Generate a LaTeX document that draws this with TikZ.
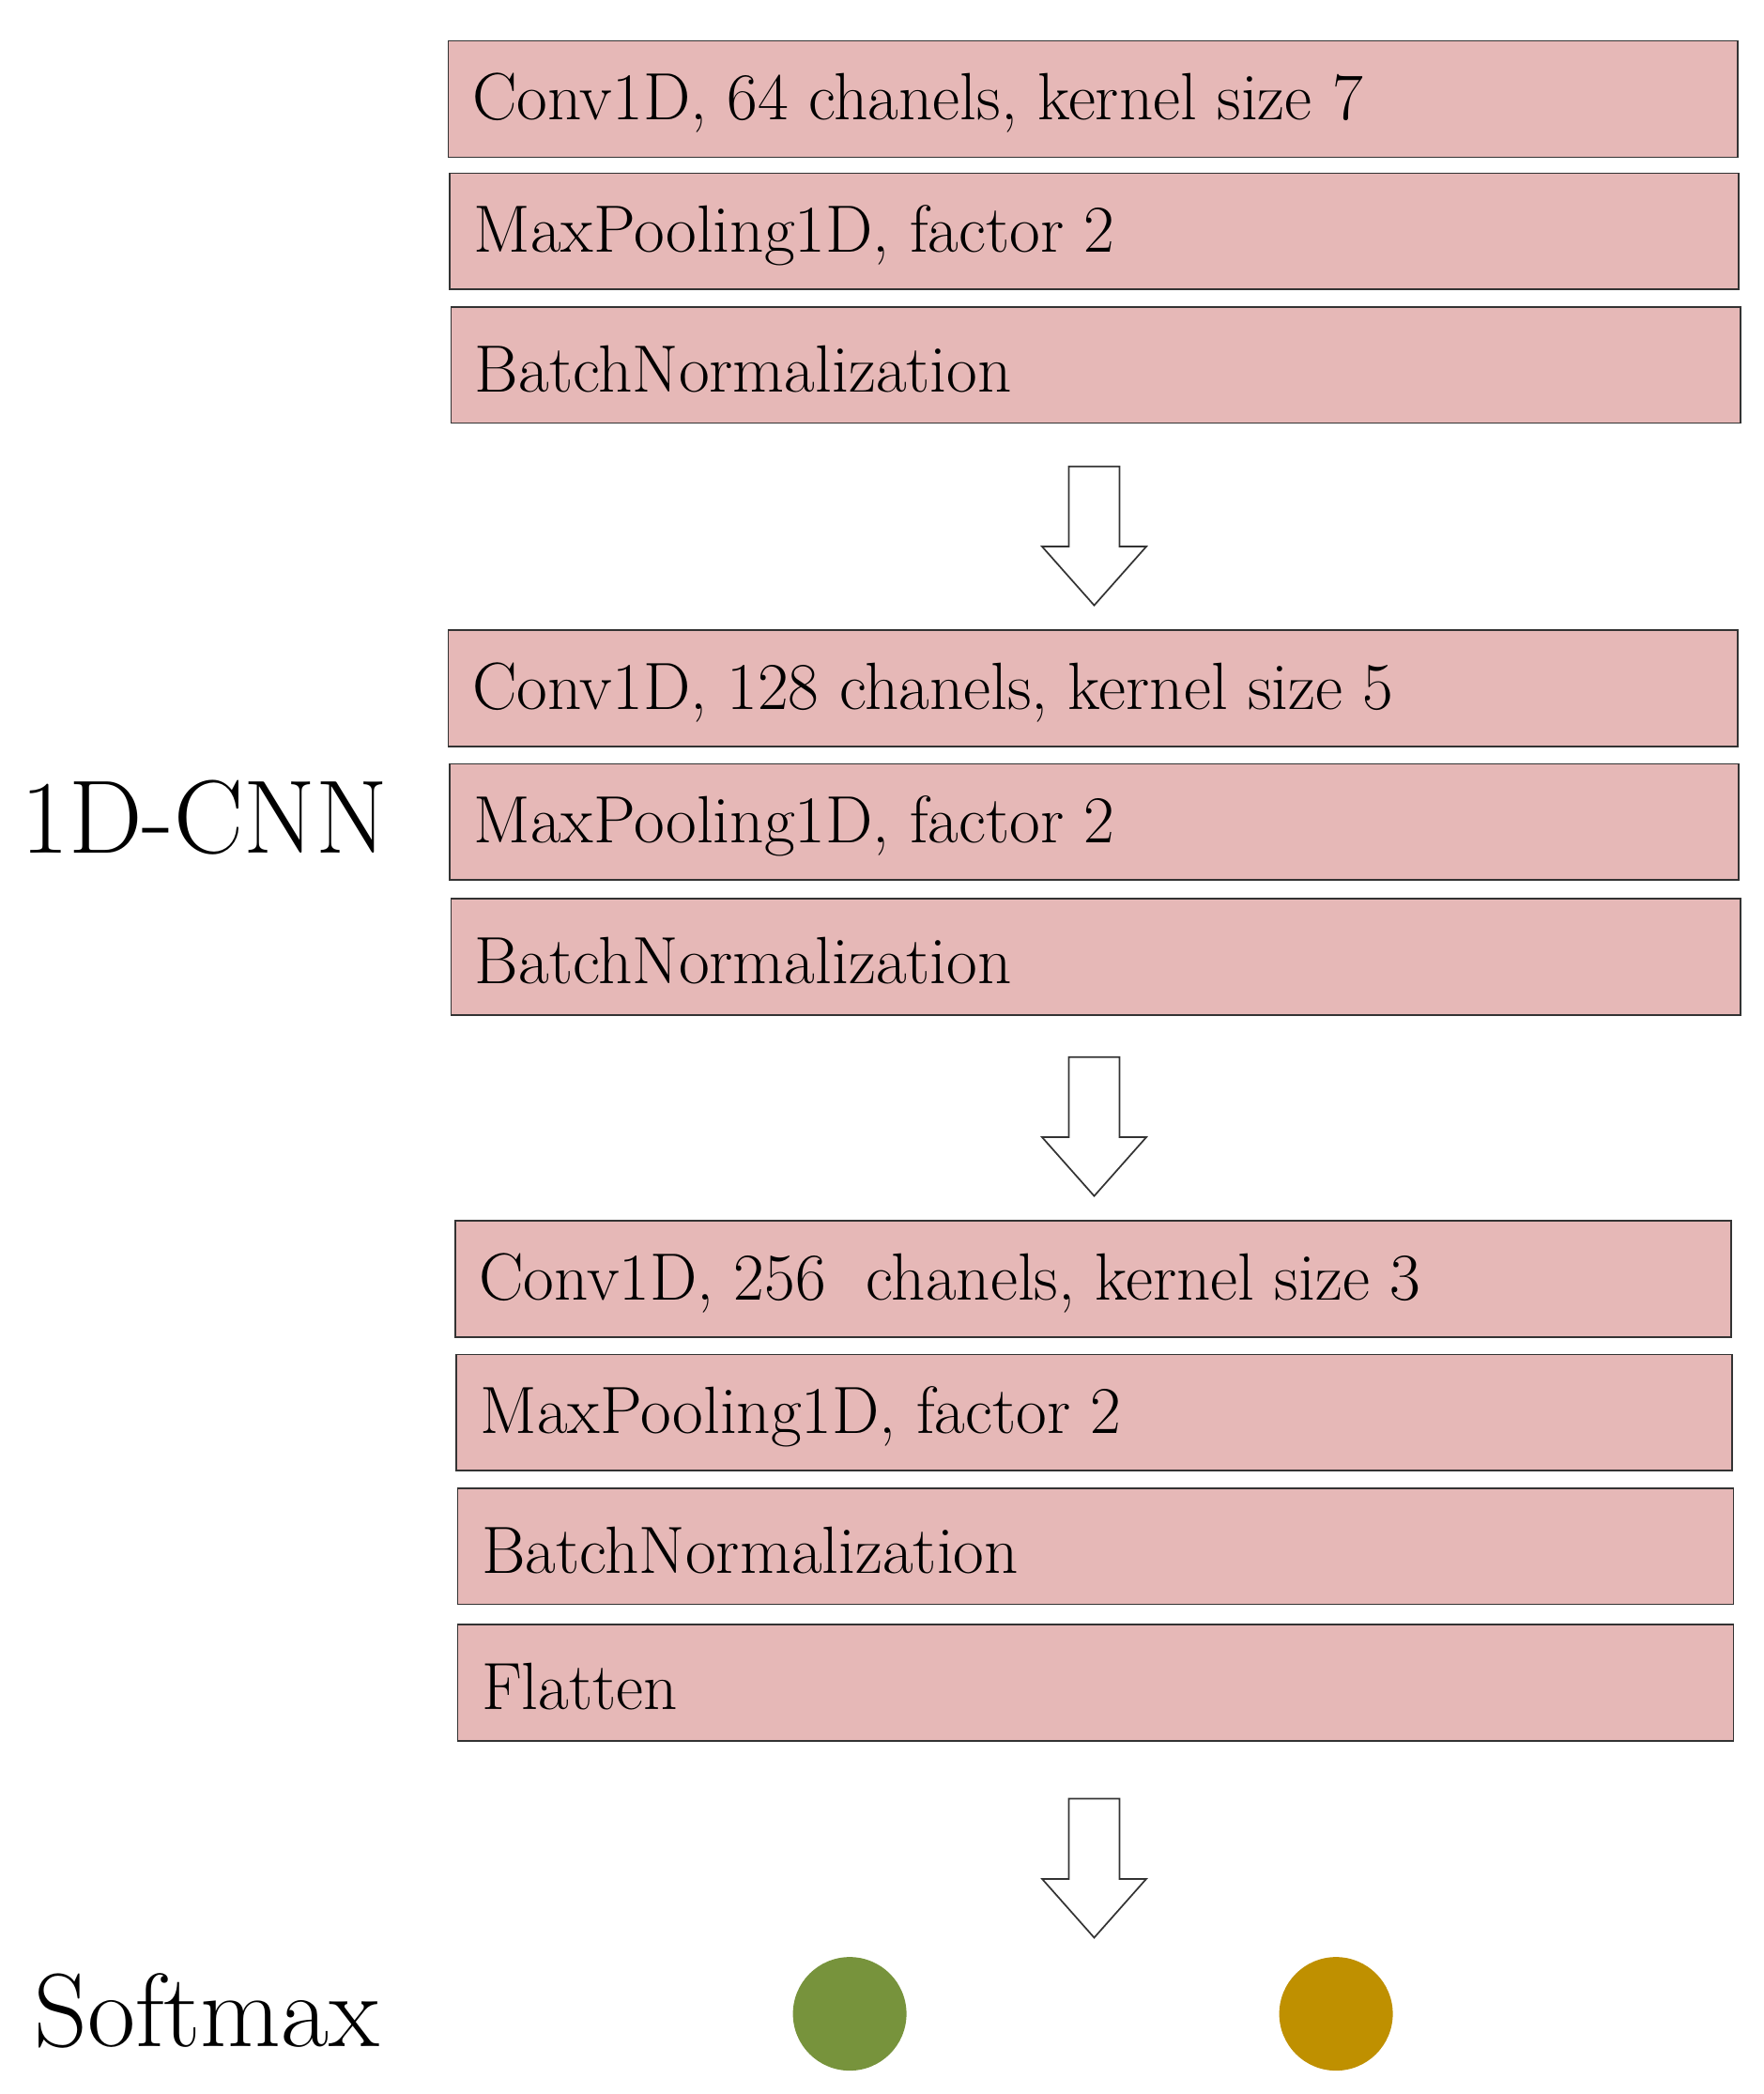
\documentclass[tikz,border=0pt]{standalone}
\begin{document}
\begin{tikzpicture}[x=1pt,y=-1pt,
 box/.style={draw=black!80,line width=1.2pt,fill={rgb,255:red,230;green,184;blue,183},anchor=north west,minimum height=87pt,inner sep=0pt,text depth=0pt},
 lbl/.style={font=\fontsize{50}{50}\selectfont,anchor=west},
 arr/.style={draw=black!80,line width=1.2pt,fill=white}]
\useasboundingbox (0,0) rectangle (1320,1567);
\foreach \n/\x/\y/\w/\t in {a1/335/30/965/{Conv1D, 64 chanels, kernel size 7},a2/336/129/965/{MaxPooling1D, factor 2},a3/337/229/965/{BatchNormalization},
 b1/335/471/965/{Conv1D, 128 chanels, kernel size 5},b2/336/571/965/{MaxPooling1D, factor 2},b3/337/672/965/{BatchNormalization},
 c1/340/913/955/{Conv1D, 256\ \ chanels, kernel size 3},c2/341/1013/955/{MaxPooling1D, factor 2},c3/342/1113/955/{BatchNormalization},c4/342/1215/955/{Flatten}}{
 \node[box,minimum width=\w pt] (\n) at (\x,\y) {};
 \node[lbl] (\n t) at (\x+15,\y+47) {\t};
}
\foreach \n/\y in {r1/349,r2/791,r3/1346}{
 \draw[arr] (800,\y) -- (838,\y) -- (838,\y+60) -- (858,\y+60) -- (819,\y+104) -- (780,\y+60) -- (800,\y+60) -- cycle;
 \coordinate (\n) at (819,\y);
}
\node[font=\fontsize{78}{78}\selectfont,anchor=west] (cnn) at (12,612) {1D-CNN};
\node[font=\fontsize{78}{78}\selectfont,anchor=west] (sm) at (22,1505) {Softmax};
\node[circle,fill={rgb,255:red,119;green,147;blue,60},minimum size=85pt] (g) at (636,1507) {};
\node[circle,fill={rgb,255:red,191;green,144;blue,0},minimum size=85pt] (o) at (1000,1507) {};
\end{tikzpicture}
\end{document}
